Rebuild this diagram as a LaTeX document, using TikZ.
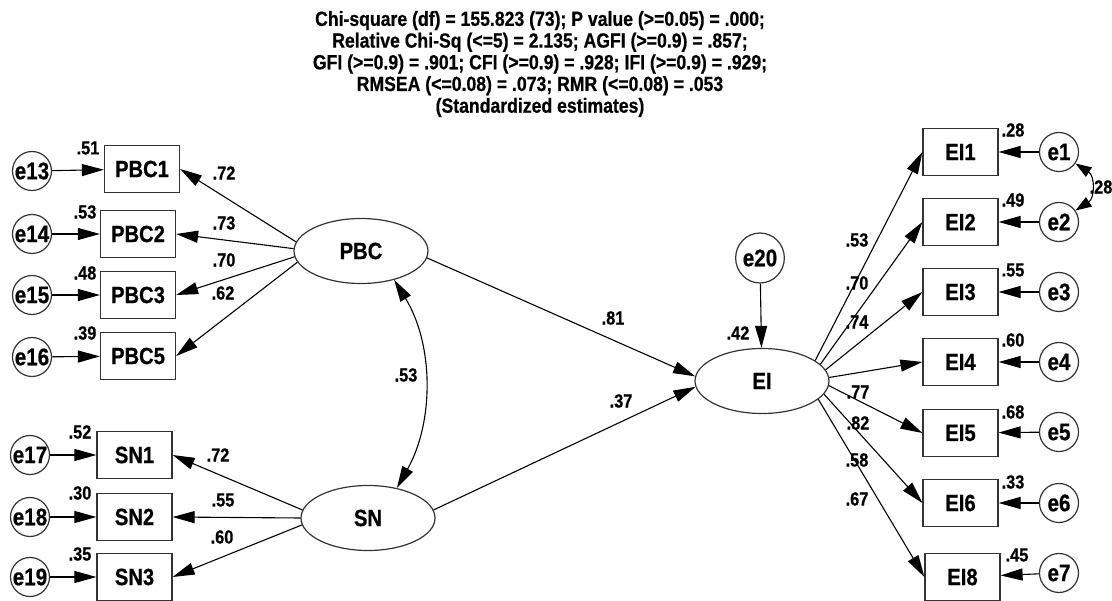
\documentclass[tikz,border=0pt]{standalone}
\usepackage{fontspec}
\setmainfont[FakeStretch=0.86, BoldFeatures={FakeBold=0.6}]{Liberation Sans}
\usetikzlibrary{arrows.meta,shapes.geometric}
\definecolor{linec}{HTML}{333333}
\begin{document}
\begin{tikzpicture}[x=1pt,y=-1pt,
  lat/.style={ellipse, draw=linec, line width=1.2pt, minimum width=134pt, minimum height=65pt, inner sep=0pt, font=\bfseries\fontsize{23.5}{23.5}\selectfont},
  obs/.style={rectangle, draw=linec, line width=1.2pt, minimum width=75pt, minimum height=47pt, inner sep=0pt, font=\bfseries\fontsize{23.5}{23.5}\selectfont},
  err/.style={circle, draw=linec, line width=1.2pt, minimum size=39pt, inner sep=0pt, font=\bfseries\fontsize{24}{24}\selectfont},
  lbl/.style={inner sep=0pt, font=\bfseries\fontsize{19}{19}\selectfont},
  arr/.style={-{Triangle[length=22pt,width=12pt]}, line width=1.1pt},
  darr/.style={{Triangle[length=22pt,width=12pt]}-{Triangle[length=22pt,width=12pt]}, line width=1.1pt},
  sarr/.style={{Triangle[length=16pt,width=11pt]}-{Triangle[length=16pt,width=11pt]}, line width=1.1pt}]
\useasboundingbox (0,0) rectangle (1112,601);
\fill[white] (0,0) rectangle (1112,601);

% title
\node[inner sep=0pt, align=center, font=\bfseries\fontsize{20.5}{21.7}\selectfont] (title) at (540,64)
 {Chi-square (df) = 155.823 (73); P value (>=0.05) = .000;\\
  Relative Chi-Sq (<=5) = 2.135; AGFI (>=0.9) = .857;\\
  GFI (>=0.9) = .901; CFI (>=0.9) = .928; IFI (>=0.9) = .929;\\
  RMSEA (<=0.08) = .073; RMR (<=0.08) = .053\\
  (Standardized estimates)};

% latent
\node[lat] (PBC) at (361,251) {PBC};
\node[lat] (SN) at (368,518) {SN};
\node[lat] (EI) at (762,381) {EI};
\node[ellipse, draw=linec, line width=1.2pt, minimum width=44pt, minimum height=50pt, inner sep=0pt, font=\bfseries\fontsize{24}{24}\selectfont] (e20) at (760,258) {e20};

% PBC indicators
\node[obs] (PBC1) at (142,169) {PBC1};
\node[obs] (PBC2) at (138,234) {PBC2};
\node[obs] (PBC3) at (138,295) {PBC3};
\node[obs] (PBC5) at (138,356) {PBC5};
\node[err] (e13) at (32,171) {e13};
\node[err] (e14) at (32,234) {e14};
\node[err] (e15) at (32,295) {e15};
\node[err] (e16) at (32,357) {e16};

% SN indicators
\node[obs] (SN1) at (134.5,455) {SN1};
\node[obs] (SN2) at (134.5,517) {SN2};
\node[obs] (SN3) at (134.5,577) {SN3};
\node[err] (e17) at (30,455) {e17};
\node[err] (e18) at (30,517) {e18};
\node[err] (e19) at (30,577) {e19};

% EI indicators
\node[obs] (EI1) at (960.5,152) {EI1};
\node[obs] (EI2) at (960.5,222) {EI2};
\node[obs] (EI3) at (960.5,292) {EI3};
\node[obs] (EI4) at (960.5,362) {EI4};
\node[obs] (EI5) at (960.5,433) {EI5};
\node[obs] (EI6) at (960.5,503) {EI6};
\node[obs] (EI8) at (962.5,577) {EI8};
\node[err] (e1) at (1059,152) {e1};
\node[err] (e2) at (1059,222) {e2};
\node[err] (e3) at (1059,292) {e3};
\node[err] (e4) at (1059,362) {e4};
\node[err] (e5) at (1059,432) {e5};
\node[err] (e6) at (1059,503) {e6};
\node[err] (e7) at (1059,573) {e7};

% error arrows left
\draw[arr] (e13) -- (PBC1);
\draw[arr] (e14) -- (PBC2);
\draw[arr] (e15) -- (PBC3);
\draw[arr] (e16) -- (PBC5);
\draw[arr] (e17) -- (SN1);
\draw[arr] (e18) -- (SN2);
\draw[arr] (e19) -- (SN3);
% error arrows right
\draw[arr] (e1) -- (EI1);
\draw[arr] (e2) -- (EI2);
\draw[arr] (e3) -- (EI3);
\draw[arr] (e4) -- (EI4);
\draw[arr] (e5) -- (EI5);
\draw[arr] (e6) -- (EI6);
\draw[arr] (e7) -- (EI8);
\draw[arr] (e20) -- (EI);

% loadings
\draw[arr] (PBC.172) -- (PBC1.east);
\draw[arr] (PBC.178) -- (PBC2.east);
\draw[arr] (PBC.185) -- (PBC3.east);
\draw[arr] (PBC.190) -- (PBC5.east);
\draw[arr] (SN.173) -- (SN1.east);
\draw[arr] (SN.180) -- (SN2.east);
\draw[arr] (SN.186) -- (SN3.east);
\draw[arr] (EI.21) -- (EI1.west);
\draw[arr] (EI.16) -- (EI2.west);
\draw[arr] (EI.10) -- (EI3.west);
\draw[arr] (EI.3) -- (EI4.west);
\draw[arr] (EI.-4) -- (EI5.west);
\draw[arr] (EI.-12) -- (EI6.west);
\draw[arr] (EI.-18) -- (EI8.west);

% structural paths
\draw[arr] (PBC.-6) -- (EI.176);
\draw[arr] (SN.7) -- (EI.185);
\draw[darr] (PBC.-41) .. controls (434,345) and (434,422) .. (SN.46);
\draw[sarr] (e1.-35) .. controls (1095,176) and (1095,198) .. (e2.35);

% labels
\node[lbl] (l51) at (88,148) {.51};
\node[lbl] (l53a) at (85,212) {.53};
\node[lbl] (l48) at (85,273) {.48};
\node[lbl] (l39) at (85,333) {.39};
\node[lbl] (l52) at (80,432) {.52};
\node[lbl] (l30) at (80,493) {.30};
\node[lbl] (l35) at (80,554) {.35};

\node[lbl] (p72) at (224,173) {.72};
\node[lbl] (p73) at (224,223) {.73};
\node[lbl] (p70) at (224,260) {.70};
\node[lbl] (p62) at (223,293) {.62};
\node[lbl] (s72) at (218,455) {.72};
\node[lbl] (s55) at (223,500) {.55};
\node[lbl] (s60) at (222,537) {.60};

\node[lbl] (c53) at (406,375) {.53};
\node[lbl] (b81) at (613,318) {.81};
\node[lbl] (b37) at (621,401) {.37};
\node[lbl] (r42) at (738,333) {.42};

\node[lbl] (q53) at (857,240) {.53};
\node[lbl] (q70) at (857,283) {.70};
\node[lbl] (q74) at (857,322) {.74};
\node[lbl] (q77) at (858,392) {.77};
\node[lbl] (q82) at (858,423) {.82};
\node[lbl] (q58) at (857,460) {.58};
\node[lbl] (q67) at (857,499) {.67};

\node[lbl] (v28) at (1013,130) {.28};
\node[lbl] (v49) at (1013,200) {.49};
\node[lbl] (v55) at (1013,270) {.55};
\node[lbl] (v60) at (1013,340) {.60};
\node[lbl] (v68) at (1013,412) {.68};
\node[lbl] (v33) at (1013,482) {.33};
\node[lbl] (v45) at (1017,555) {.45};
\node[lbl] (k28) at (1101,187) {.28};
\end{tikzpicture}
\end{document}
